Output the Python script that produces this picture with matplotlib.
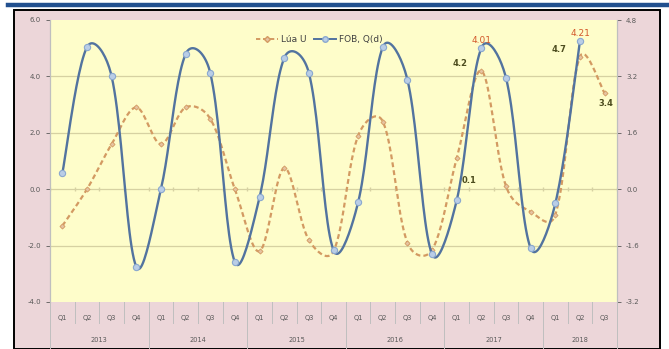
import numpy as np
import matplotlib
matplotlib.use("Agg")
import matplotlib.pyplot as plt
from matplotlib.lines import Line2D
from matplotlib.patches import Rectangle
import matplotlib.transforms as mtransforms

# categories
quarters = ["Q1", "Q2", "Q3", "Q4"] * 5 + ["Q1", "Q2", "Q3"]
years = ["2013", "2014", "2015", "2016", "2017", "2018"]
year_sizes = [4, 4, 4, 4, 4, 3]

# series
lua_u = [-1.3, 0.0, 1.6, 2.9, 1.6, 2.9, 2.5, 0.0, -2.2, 0.75, -1.8, -2.2,
         1.9, 2.4, -1.9, -2.15, 1.1, 4.2, 0.1, -0.8, -0.9, 4.7, 3.4]
fob = [0.45, 4.03, 3.2, -2.2, 0.0, 3.83, 3.3, -2.07, -0.23, 3.72, 3.3, -1.73,
       -0.37, 4.03, 3.1, -1.85, -0.31, 4.01, 3.15, -1.68, -0.4, 4.21, np.nan]

left_ticks = [-4.0, -2.0, 0.0, 2.0, 4.0, 6.0]
right_ticks = [-3.2, -1.6, 0.0, 1.6, 3.2, 4.8]

# labels shown on the chart: index -> text
lua_labels = {17: "4.2", 18: "0.1", 21: "4.7", 22: "3.4"}
fob_labels = {17: "4.01", 21: "4.21"}

TICK_C = "#595959"
GRID_C = "#d6d1a2"
DASH_C = "#d39a62"
BLUE_C = "#52739f"


def smooth(xs, ys, sx=1.0, sy=1.0, n=24, mix=0.5):
    # Excel-like smoothed line: bezier through the points, the handles
    # partly weighted by segment length measured on screen (sx, sy = px per unit)
    xs = np.asarray(xs, float)
    ys = np.asarray(ys, float)
    ok = ~np.isnan(ys)
    P = np.column_stack([xs[ok] * sx, ys[ok] * sy])
    m = len(P)
    d = np.hypot(*np.diff(P, axis=0).T)
    out = []
    for i in range(m - 1):
        p1, p2 = P[i], P[i + 1]
        if i > 0:
            w = mix * d[i] / (d[i - 1] + d[i]) + (1 - mix) * 0.5
            c1 = p1 + (p2 - P[i - 1]) * w / 3.0
        else:
            c1 = p1 + (p2 - p1) / 6.0
        if i + 2 < m:
            w = mix * d[i] / (d[i] + d[i + 1]) + (1 - mix) * 0.5
            c2 = p2 - (P[i + 2] - p1) * w / 3.0
        else:
            c2 = p2 - (p2 - p1) / 6.0
        t = np.linspace(0, 1, n)[:, None]
        seg = ((1 - t) ** 3) * p1 + 3 * ((1 - t) ** 2) * t * c1 \
            + 3 * (1 - t) * t ** 2 * c2 + t ** 3 * p2
        out.append(seg if i == 0 else seg[1:])
    seg = np.vstack(out)
    return seg[:, 0] / sx, seg[:, 1] / sy


fig = plt.figure(figsize=(6.69, 3.49), dpi=100)
fig.patch.set_facecolor("white")

# pink chart area with black frame and the double rule on top
frame = Rectangle((14 / 669, 0), (660 - 14) / 669, 1 - 10 / 349,
                  transform=fig.transFigure, facecolor="#ecd6d9",
                  edgecolor="black", linewidth=1.4, zorder=-10)
fig.patches.append(frame)
fig.lines.append(Line2D([8 / 669, 1], [1 - 4.5 / 349] * 2, transform=fig.transFigure,
                        color="#22508f", linewidth=3.2, zorder=-9))

ax_w, ax_h = 567, 282
ax = fig.add_axes([50 / 669, 1 - 302 / 349, ax_w / 669, ax_h / 349])
ax.set_facecolor("#fefdca")
ax2 = ax.twinx()

x = np.arange(len(quarters))
ax.set_xlim(-0.5, len(quarters) - 0.5)
ax.set_ylim(-4.0, 6.0)
ax2.set_ylim(-3.2, 4.8)
px_x = ax_w / len(quarters)
px_left = ax_h / 10.0
px_right = ax_h / 8.0

for yv in left_ticks[1:-1]:
    ax.axhline(yv, color=GRID_C, linewidth=0.9, zorder=1)
bounds = np.arange(len(quarters) + 1) - 0.5
ax.plot(bounds, np.zeros_like(bounds), "|", ms=3, color=GRID_C, zorder=1)

ax.set_yticks(left_ticks)
ax.set_yticklabels([f"{v:.1f}" for v in left_ticks])
ax2.set_yticks(right_ticks)
ax2.set_yticklabels([f"{v:.1f}" for v in right_ticks])
for a in (ax, ax2):
    a.tick_params(axis="y", labelsize=5, colors=TICK_C, length=3, width=0.6)
    for s in ("top", "bottom"):
        a.spines[s].set_visible(False)
    a.spines["left"].set_color("#bfbfbf")
    a.spines["right"].set_color("#bfbfbf")
ax.set_xticks([])

# lines
sx, sy = smooth(x, lua_u, px_x, px_left)
ax.plot(sx, sy, color=DASH_C, linewidth=1.6, linestyle=(0, (2.2, 1.4)), zorder=3)
ax.plot(x, lua_u, "D", ms=2.6, mfc="#e6c3a0", mec=DASH_C, mew=0.6, zorder=4)

bx, by = smooth(x, fob, px_x, px_right)
ax2.plot(bx, by, color=BLUE_C, linewidth=1.7, zorder=3)
ax2.plot(x, fob, "o", ms=4.5, mfc="#b9cde6", mec="#8aa8cf", mew=0.8, zorder=4)

# data labels
for i, t in lua_labels.items():
    if i == 22:
        ax.text(x[i] + 0.05, lua_u[i] - 0.2, t, fontsize=6, fontweight="bold",
                color="#4d4d1f", ha="center", va="top", zorder=5)
    elif i == 18:
        ax.text(x[i] - 1.5, lua_u[i] + 0.2, t, fontsize=6, fontweight="bold",
                color="#4d4d1f", ha="center", va="center", zorder=5)
    else:
        ax.text(x[i] - 0.55, lua_u[i] + 0.25, t, fontsize=6, fontweight="bold",
                color="#4d4d1f", ha="right", va="center", zorder=5)
for i, t in fob_labels.items():
    ax2.text(x[i], fob[i] + 0.08, t, fontsize=6.5, color="#d2572a",
             ha="center", va="bottom", zorder=5)

# two-level category axis
trans = mtransforms.blended_transform_factory(ax.transData, ax.transAxes)
for i, q in enumerate(quarters):
    ax.text(x[i], -0.057, q, transform=trans, fontsize=4.8, color=TICK_C,
            ha="center", va="center")
start = 0
year_edges = [0]
for yr, n in zip(years, year_sizes):
    ax.text(start + (n - 1) / 2, -0.135, yr, transform=trans, fontsize=4.8,
            color=TICK_C, ha="center", va="center")
    start += n
    year_edges.append(start)
for b in range(len(quarters) + 1):
    low = -0.167 if b in year_edges else -0.074
    ax.plot([b - 0.5, b - 0.5], [0, low], transform=trans, color="#bfbfbf",
            linewidth=0.7, clip_on=False)

# legend
h1 = Line2D([], [], color=DASH_C, linewidth=1.4, linestyle=(0, (2.2, 1.4)),
            marker="D", ms=3, mfc="#e6c3a0", mec=DASH_C)
h2 = Line2D([], [], color=BLUE_C, linewidth=1.4, marker="o", ms=4,
            mfc="#b9cde6", mec="#8aa8cf")
ax2.legend([h1, h2], ["Lúa U", "FOB, Q(d)"], loc="center", bbox_to_anchor=(0.475, 0.93),
           ncol=2, frameon=False, fontsize=6.5, handlelength=2.4, columnspacing=0.8,
           handletextpad=0.4, labelcolor="#404040")

fig.savefig("out.png", dpi=100, facecolor=fig.get_facecolor())
